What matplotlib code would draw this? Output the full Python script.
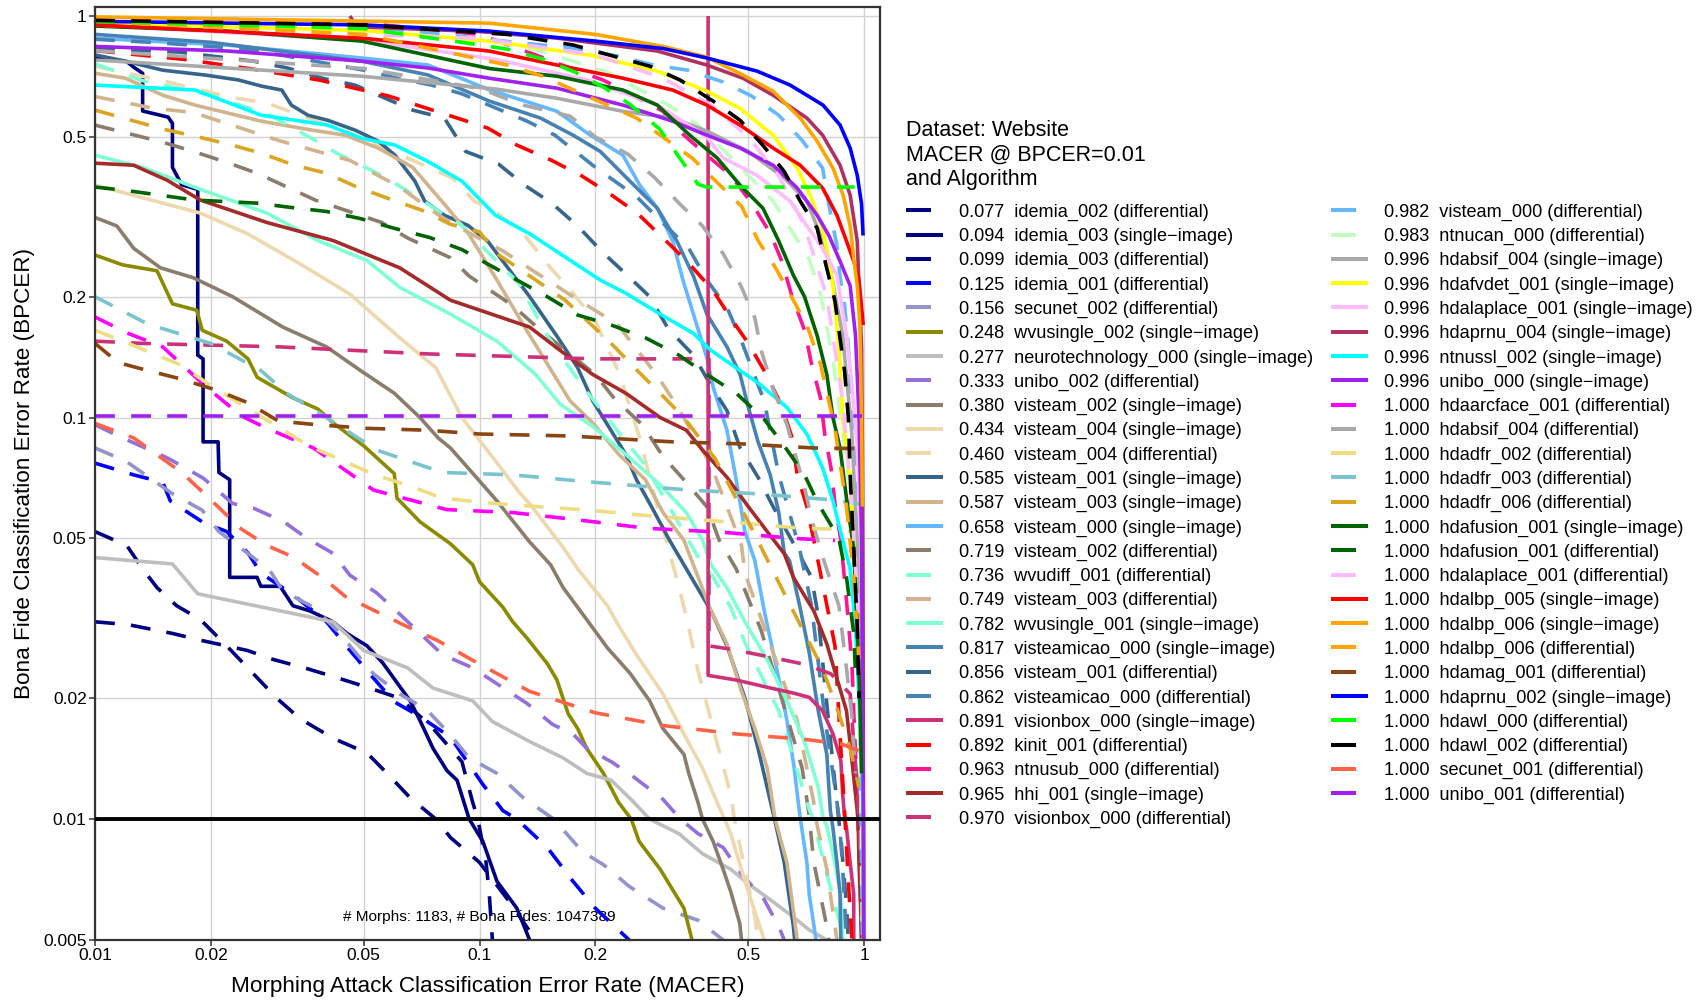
import numpy as np
import matplotlib
matplotlib.use('Agg')
import matplotlib.pyplot as plt
from matplotlib.lines import Line2D
from matplotlib.ticker import NullLocator

plt.rcParams['font.family'] = ['Liberation Sans', 'DejaVu Sans']

# DET curves, points are (MACER, BPCER)
idemia_002_d = [(0.01, 0.052), (0.0121, 0.048), (0.0133, 0.042), (0.0145, 0.0377), (0.0163, 0.034), (0.0188, 0.0314),
                (0.022, 0.027), (0.0297, 0.02), (0.0341, 0.0178), (0.0416, 0.0159), (0.051, 0.0146), (0.0575, 0.013),
                (0.066, 0.0113), (0.077, 0.01), (0.084, 0.009), (0.1, 0.0078), (0.12, 0.0062), (0.14, 0.005)]
idemia_003_s = [(0.01, 0.79), (0.0121, 0.77), (0.0126, 0.746), (0.0133, 0.72), (0.0133, 0.58), (0.0155, 0.56),
                (0.0159, 0.54), (0.0159, 0.42), (0.0168, 0.38), (0.0185, 0.37), (0.0185, 0.143), (0.0191, 0.14),
                (0.0191, 0.087), (0.0209, 0.087), (0.021, 0.073), (0.0224, 0.07), (0.0224, 0.04), (0.0264, 0.04),
                (0.027, 0.038), (0.0303, 0.038), (0.0327, 0.034), (0.0362, 0.033), (0.0416, 0.031), (0.0452, 0.029),
                (0.051, 0.027), (0.056, 0.0245), (0.066, 0.0197), (0.07, 0.0176), (0.0757, 0.015), (0.0823, 0.0132),
                (0.0874, 0.0125), (0.094, 0.01), (0.102, 0.0088), (0.111, 0.007), (0.125, 0.006), (0.135, 0.005)]
idemia_003_d = [(0.01, 0.031), (0.0122, 0.0305), (0.0159, 0.029), (0.0188, 0.0279), (0.0249, 0.0263), (0.029, 0.025),
                (0.0356, 0.0237), (0.0426, 0.0225), (0.051, 0.0213), (0.062, 0.02), (0.075, 0.017), (0.085, 0.0148),
                (0.09, 0.0139), (0.096, 0.011), (0.099, 0.01), (0.104, 0.0078), (0.106, 0.0065), (0.108, 0.005)]
idemia_001_d = [(0.01, 0.077), (0.0126, 0.072), (0.015, 0.069), (0.0157, 0.062), (0.019, 0.055), (0.022, 0.052),
                (0.025, 0.046), (0.027, 0.041), (0.033, 0.036), (0.04, 0.031), (0.045, 0.027), (0.051, 0.0234),
                (0.06, 0.0196), (0.07, 0.018), (0.084, 0.016), (0.102, 0.0122), (0.115, 0.0105), (0.125, 0.01),
                (0.15, 0.0085), (0.175, 0.007), (0.2, 0.006), (0.245, 0.005)]
secunet_002_d = [(0.01, 0.084), (0.012, 0.078), (0.0159, 0.0646), (0.019, 0.0588), (0.021, 0.052), (0.0249, 0.046),
                 (0.0285, 0.0416), (0.0308, 0.037), (0.037, 0.0337), (0.0426, 0.0295), (0.053, 0.023), (0.062, 0.0205),
                 (0.073, 0.0187), (0.084, 0.0162), (0.094, 0.0142), (0.111, 0.013), (0.13, 0.0113), (0.156, 0.01),
                 (0.185, 0.0083), (0.21, 0.0077), (0.245, 0.0068), (0.3, 0.006), (0.37, 0.0056), (0.43, 0.005)]
wvusingle_002_s = [(0.01, 0.254), (0.0118, 0.24), (0.0145, 0.232), (0.0159, 0.192), (0.0184, 0.185), (0.019, 0.165),
                   (0.022, 0.155), (0.025, 0.14), (0.0264, 0.126), (0.0327, 0.112), (0.038, 0.105), (0.0416, 0.097),
                   (0.05, 0.085), (0.06, 0.0725), (0.061, 0.063), (0.07, 0.055), (0.084, 0.0485), (0.096, 0.043),
                   (0.1, 0.039), (0.115, 0.0337), (0.122, 0.031), (0.133, 0.0282), (0.15, 0.0244), (0.159, 0.0222),
                   (0.17, 0.0183), (0.18, 0.0168), (0.19, 0.015), (0.21, 0.013), (0.23, 0.011), (0.248, 0.01),
                   (0.26, 0.0088), (0.295, 0.0075), (0.32, 0.0066), (0.34, 0.006), (0.357, 0.005)]
neurotech_000_s = [(0.01, 0.0448), (0.0159, 0.0432), (0.0185, 0.0364), (0.0416, 0.031), (0.05, 0.0263), (0.065, 0.0238),
                   (0.0757, 0.0212), (0.096, 0.0197), (0.108, 0.0175), (0.135, 0.0156), (0.165, 0.0142), (0.19, 0.013),
                   (0.22, 0.0125), (0.25, 0.0111), (0.277, 0.01), (0.33, 0.0092), (0.38, 0.0082), (0.45, 0.0075),
                   (0.5, 0.0069), (0.57, 0.0063), (0.64, 0.0058), (0.72, 0.0053), (0.8, 0.005)]
unibo_002_d = [(0.01, 0.096), (0.0115, 0.09), (0.0154, 0.0794), (0.0191, 0.0707), (0.0228, 0.0611), (0.0258, 0.0595),
               (0.031, 0.055), (0.0356, 0.05), (0.0416, 0.0459), (0.046, 0.0405), (0.054, 0.0366), (0.062, 0.0324),
               (0.08, 0.0257), (0.096, 0.0238), (0.133, 0.0194), (0.155, 0.0172), (0.175, 0.0163), (0.19, 0.015),
               (0.22, 0.0139), (0.25, 0.0128), (0.3, 0.0112), (0.333, 0.01), (0.37, 0.0092), (0.43, 0.0085),
               (0.48, 0.0073), (0.55, 0.0063), (0.6, 0.0054), (0.62, 0.005)]
visteam_002_s = [(0.01, 0.315), (0.0114, 0.3), (0.0126, 0.264), (0.0148, 0.236), (0.018, 0.223), (0.0228, 0.2),
                 (0.0308, 0.168), (0.04, 0.15), (0.049, 0.131), (0.06, 0.115), (0.07, 0.1), (0.078, 0.089),
                 (0.084, 0.084), (0.1, 0.0695), (0.111, 0.062), (0.135, 0.049), (0.153, 0.043), (0.165, 0.0377),
                 (0.185, 0.0325), (0.215, 0.0267), (0.246, 0.0231), (0.277, 0.0197), (0.3, 0.0168), (0.34, 0.0145),
                 (0.35, 0.013), (0.37, 0.011), (0.38, 0.01), (0.405, 0.0088), (0.43, 0.0075), (0.45, 0.0066),
                 (0.475, 0.0055), (0.48, 0.005)]
visteam_004_s = [(0.01, 0.379), (0.012, 0.362), (0.0188, 0.323), (0.0249, 0.287), (0.034, 0.242), (0.046, 0.203),
                 (0.062, 0.158), (0.077, 0.133), (0.09, 0.1), (0.11, 0.078), (0.127, 0.065), (0.135, 0.061),
                 (0.165, 0.0475), (0.18, 0.042), (0.215, 0.034), (0.227, 0.031), (0.255, 0.0258), (0.3, 0.0205),
                 (0.34, 0.0163), (0.38, 0.0134), (0.42, 0.0107), (0.434, 0.01), (0.45, 0.0092), (0.49, 0.007),
                 (0.55, 0.005)]
visteam_004_d = [(0.01, 0.75), (0.015, 0.69), (0.0224, 0.628), (0.028, 0.607), (0.046, 0.51), (0.06, 0.458),
                 (0.085, 0.395), (0.097, 0.346), (0.111, 0.323), (0.13, 0.287), (0.153, 0.236), (0.175, 0.204),
                 (0.2, 0.174), (0.23, 0.13), (0.26, 0.09), (0.29, 0.06), (0.31, 0.047), (0.33, 0.038), (0.35, 0.03),
                 (0.37, 0.0234), (0.4, 0.0176), (0.45, 0.0115), (0.46, 0.01), (0.49, 0.0075), (0.52, 0.0057),
                 (0.53, 0.005)]
visteam_001_s = [(0.01, 0.8), (0.012, 0.772), (0.015, 0.733), (0.0193, 0.713), (0.0236, 0.693), (0.0271, 0.669),
                 (0.0306, 0.654), (0.0324, 0.6), (0.0358, 0.566), (0.0403, 0.55), (0.0474, 0.52), (0.0545, 0.488),
                 (0.0603, 0.45), (0.0679, 0.388), (0.072, 0.346), (0.081, 0.319), (0.0933, 0.301), (0.105, 0.275),
                 (0.135, 0.2), (0.16, 0.158), (0.18, 0.133), (0.197, 0.11), (0.24, 0.081), (0.256, 0.07),
                 (0.28, 0.06), (0.31, 0.05), (0.34, 0.043), (0.4, 0.033), (0.44, 0.027), (0.49, 0.02),
                 (0.53, 0.015), (0.585, 0.01), (0.62, 0.0078), (0.655, 0.0054), (0.66, 0.005)]
visteam_003_s = [(0.01, 0.72), (0.012, 0.7), (0.015, 0.635), (0.0182, 0.6), (0.0271, 0.547), (0.0366, 0.52),
                 (0.0447, 0.505), (0.0545, 0.469), (0.067, 0.42), (0.081, 0.34), (0.093, 0.29), (0.111, 0.22),
                 (0.13, 0.17), (0.172, 0.11), (0.197, 0.097), (0.23, 0.081), (0.27, 0.07), (0.3, 0.058),
                 (0.34, 0.0495), (0.4, 0.033), (0.44, 0.0273), (0.476, 0.0213), (0.52, 0.0168), (0.56, 0.0134),
                 (0.587, 0.01), (0.63, 0.0078), (0.655, 0.0059), (0.67, 0.005)]
visteam_000_s = [(0.01, 0.88), (0.0222, 0.846), (0.0494, 0.786), (0.0735, 0.755), (0.106, 0.655), (0.159, 0.579),
                 (0.194, 0.505), (0.236, 0.45), (0.261, 0.379), (0.29, 0.332), (0.318, 0.275), (0.338, 0.22),
                 (0.39, 0.141), (0.405, 0.119), (0.44, 0.093), (0.465, 0.07), (0.49, 0.052), (0.52, 0.044),
                 (0.55, 0.033), (0.6, 0.0224), (0.63, 0.0176), (0.658, 0.0134), (0.68, 0.0103), (0.71, 0.0078),
                 (0.72, 0.0065), (0.75, 0.005)]
visteam_002_d = [(0.01, 0.535), (0.015, 0.485), (0.018, 0.46), (0.0217, 0.434), (0.0264, 0.406), (0.0374, 0.348),
                 (0.0557, 0.306), (0.065, 0.28), (0.084, 0.25), (0.094, 0.225), (0.122, 0.19), (0.144, 0.165),
                 (0.2, 0.128), (0.225, 0.111), (0.265, 0.096), (0.3, 0.08), (0.34, 0.07), (0.39, 0.06),
                 (0.42, 0.0495), (0.465, 0.042), (0.54, 0.0295), (0.62, 0.019), (0.69, 0.0134), (0.719, 0.0103),
                 (0.74, 0.0078), (0.8, 0.0054), (0.81, 0.005)]
wvudiff_001_d = [(0.01, 0.76), (0.0133, 0.69), (0.02, 0.635), (0.0285, 0.566), (0.036, 0.5), (0.0426, 0.455),
                 (0.056, 0.4), (0.067, 0.36), (0.09, 0.3), (0.127, 0.215), (0.15, 0.16), (0.185, 0.12),
                 (0.236, 0.089), (0.27, 0.076), (0.37, 0.045), (0.405, 0.04), (0.45, 0.0337), (0.49, 0.0275),
                 (0.6, 0.0186), (0.72, 0.0106), (0.736, 0.01), (0.8, 0.0073), (0.87, 0.0054), (0.88, 0.005)]
visteam_003_d = [(0.01, 0.63), (0.0141, 0.59), (0.018, 0.575), (0.03, 0.49), (0.046, 0.437), (0.062, 0.375),
                 (0.078, 0.32), (0.087, 0.3), (0.115, 0.26), (0.135, 0.235), (0.175, 0.2), (0.228, 0.171),
                 (0.29, 0.127), (0.326, 0.107), (0.4, 0.076), (0.44, 0.06), (0.48, 0.048), (0.49, 0.041),
                 (0.55, 0.03), (0.67, 0.0176), (0.74, 0.011), (0.749, 0.01), (0.8, 0.0075), (0.85, 0.005)]
wvusingle_001_s = [(0.01, 0.45), (0.0133, 0.42), (0.0188, 0.37), (0.028, 0.323), (0.038, 0.276), (0.051, 0.246),
                   (0.062, 0.211), (0.084, 0.181), (0.111, 0.155), (0.14, 0.128), (0.162, 0.108), (0.197, 0.095),
                   (0.24, 0.081), (0.295, 0.068), (0.345, 0.058), (0.38, 0.0495), (0.4, 0.043), (0.44, 0.0377),
                   (0.49, 0.031), (0.56, 0.0249), (0.63, 0.0197), (0.7, 0.0156), (0.76, 0.012), (0.782, 0.0101),
                   (0.8, 0.0096), (0.83, 0.0082), (0.87, 0.0065), (0.88, 0.005)]
visteamicao_000_s = [(0.01, 0.9), (0.02, 0.86), (0.05, 0.77), (0.0735, 0.713), (0.106, 0.614), (0.144, 0.557),
                     (0.175, 0.505), (0.206, 0.46), (0.246, 0.388), (0.29, 0.332), (0.326, 0.275), (0.36, 0.225),
                     (0.39, 0.181), (0.44, 0.15), (0.476, 0.128), (0.5, 0.106), (0.53, 0.087), (0.57, 0.072),
                     (0.6, 0.058), (0.62, 0.046), (0.64, 0.044), (0.68, 0.034), (0.72, 0.026), (0.76, 0.0186),
                     (0.8, 0.0145), (0.817, 0.0105), (0.83, 0.0095), (0.85, 0.0078), (0.866, 0.0065), (0.87, 0.005)]
visteam_001_d = [(0.01, 0.83), (0.0166, 0.813), (0.0258, 0.772), (0.0317, 0.742), (0.039, 0.7), (0.0474, 0.673),
                 (0.067, 0.583), (0.081, 0.557), (0.092, 0.46), (0.112, 0.428), (0.131, 0.379), (0.154, 0.342),
                 (0.18, 0.3), (0.208, 0.259), (0.24, 0.228), (0.277, 0.2), (0.31, 0.166), (0.36, 0.143),
                 (0.4, 0.12), (0.44, 0.104), (0.476, 0.084), (0.53, 0.071), (0.58, 0.06), (0.66, 0.048),
                 (0.73, 0.04), (0.76, 0.032), (0.79, 0.0218), (0.83, 0.0137), (0.856, 0.0103), (0.87, 0.009),
                 (0.9, 0.0061), (0.91, 0.005)]
visteamicao_000_d = [(0.01, 0.875), (0.014, 0.86), (0.021, 0.837), (0.026, 0.822), (0.05, 0.733), (0.061, 0.7),
                     (0.075, 0.673), (0.09, 0.64), (0.133, 0.547), (0.157, 0.505), (0.2, 0.42), (0.256, 0.355),
                     (0.3, 0.305), (0.35, 0.264), (0.39, 0.22), (0.44, 0.188), (0.48, 0.155), (0.55, 0.11),
                     (0.6, 0.072), (0.63, 0.061), (0.68, 0.047), (0.73, 0.034), (0.79, 0.018), (0.83, 0.013),
                     (0.862, 0.01), (0.88, 0.0075), (0.9, 0.005)]
visionbox_000_s = [(0.393, 1.0), (0.393, 0.0228), (0.465, 0.0222), (0.56, 0.0213), (0.655, 0.0206), (0.72, 0.0201),
                   (0.78, 0.0186), (0.83, 0.0163), (0.87, 0.014), (0.88, 0.0115), (0.891, 0.01), (0.9, 0.0095),
                   (0.92, 0.0078), (0.94, 0.0065), (0.94, 0.005)]
kinit_001_d = [(0.01, 0.82), (0.017, 0.78), (0.0256, 0.738), (0.0385, 0.692), (0.058, 0.632), (0.086, 0.56),
               (0.105, 0.526), (0.125, 0.477), (0.154, 0.437), (0.185, 0.399), (0.217, 0.362), (0.257, 0.323),
               (0.345, 0.246), (0.405, 0.207), (0.45, 0.177), (0.5, 0.153), (0.56, 0.127), (0.61, 0.107),
               (0.65, 0.089), (0.67, 0.072), (0.71, 0.06), (0.74, 0.0495), (0.77, 0.041), (0.84, 0.027),
               (0.87, 0.015), (0.892, 0.01), (0.91, 0.007), (0.93, 0.005)]
ntnusub_000_d = [(0.01, 0.985), (0.05, 0.96), (0.1, 0.9), (0.14, 0.8), (0.172, 0.742), (0.21, 0.692), (0.253, 0.632),
                 (0.3, 0.579), (0.34, 0.505), (0.39, 0.45), (0.45, 0.401), (0.51, 0.342), (0.57, 0.288),
                 (0.61, 0.246), (0.65, 0.2), (0.7, 0.165), (0.73, 0.136), (0.77, 0.112), (0.79, 0.091),
                 (0.82, 0.075), (0.84, 0.061), (0.87, 0.0495), (0.9, 0.035), (0.93, 0.0243), (0.94, 0.0184),
                 (0.955, 0.013), (0.963, 0.01), (0.975, 0.0075), (0.985, 0.005)]
hhi_001_s = [(0.01, 0.43), (0.0126, 0.425), (0.0154, 0.39), (0.0188, 0.348), (0.028, 0.306), (0.0416, 0.276),
             (0.062, 0.236), (0.084, 0.196), (0.135, 0.168), (0.162, 0.147), (0.197, 0.128), (0.24, 0.115),
             (0.295, 0.1), (0.345, 0.093), (0.38, 0.083), (0.44, 0.071), (0.5, 0.06), (0.56, 0.052),
             (0.62, 0.0458), (0.655, 0.04), (0.74, 0.033), (0.8, 0.0273), (0.85, 0.0224), (0.9, 0.0186),
             (0.92, 0.0154), (0.94, 0.0127), (0.955, 0.011), (0.965, 0.01), (0.97, 0.0078), (0.98, 0.006),
             (0.985, 0.005)]
visionbox_000_d = [(0.01, 0.155), (0.0133, 0.153), (0.03, 0.15), (0.074, 0.144), (0.2, 0.14), (0.395, 0.14),
                   (0.395, 0.027), (0.45, 0.0265), (0.55, 0.0255), (0.7, 0.0243), (0.82, 0.023), (0.92, 0.0205),
                   (0.94, 0.0155), (0.96, 0.0122), (0.97, 0.01), (0.98, 0.0075), (0.99, 0.005)]
visteam_000_d = [(0.01, 0.97), (0.05, 0.94), (0.08, 0.9), (0.124, 0.86), (0.175, 0.832), (0.229, 0.795),
                 (0.283, 0.755), (0.348, 0.733), (0.43, 0.685), (0.51, 0.632), (0.6, 0.566), (0.69, 0.49),
                 (0.78, 0.418), (0.81, 0.338), (0.85, 0.268), (0.865, 0.226), (0.89, 0.19), (0.91, 0.15),
                 (0.94, 0.091), (0.96, 0.045), (0.975, 0.02), (0.982, 0.01), (0.99, 0.005)]
ntnucan_000_d = [(0.01, 0.95), (0.05, 0.92), (0.116, 0.856), (0.15, 0.809), (0.215, 0.725), (0.31, 0.6),
                 (0.37, 0.535), (0.435, 0.46), (0.58, 0.346), (0.72, 0.248), (0.77, 0.204), (0.83, 0.139),
                 (0.88, 0.092), (0.93, 0.061), (0.96, 0.035), (0.975, 0.02), (0.983, 0.01), (0.99, 0.005)]
hdabsif_004_s = [(0.01, 0.777), (0.0222, 0.742), (0.0494, 0.708), (0.11, 0.658), (0.159, 0.624), (0.236, 0.579),
                 (0.318, 0.557), (0.39, 0.517), (0.5, 0.46), (0.62, 0.395), (0.71, 0.346), (0.8, 0.26),
                 (0.88, 0.16), (0.93, 0.09), (0.97, 0.04), (0.99, 0.015), (0.996, 0.01), (0.998, 0.005)]
hdafvdet_001_s = [(0.01, 0.96), (0.05, 0.92), (0.106, 0.866), (0.194, 0.799), (0.29, 0.729), (0.39, 0.65),
                  (0.476, 0.589), (0.58, 0.505), (0.67, 0.418), (0.724, 0.358), (0.78, 0.296), (0.81, 0.245),
                  (0.83, 0.213), (0.86, 0.15), (0.88, 0.1), (0.92, 0.07), (0.94, 0.047), (0.97, 0.025),
                  (0.99, 0.013), (0.996, 0.01), (0.998, 0.005)]
hdalaplace_001_s = [(0.01, 0.95), (0.05, 0.87), (0.11, 0.78), (0.194, 0.69), (0.29, 0.6), (0.39, 0.5),
                    (0.43, 0.443), (0.527, 0.401), (0.642, 0.346), (0.71, 0.3), (0.78, 0.264), (0.85, 0.226),
                    (0.9, 0.16), (0.93, 0.12), (0.96, 0.084), (0.98, 0.05), (0.99, 0.025), (0.996, 0.01),
                    (0.998, 0.005)]
hdaprnu_004_s = [(0.046, 1.0), (0.048, 0.94), (0.1, 0.915), (0.159, 0.881), (0.29, 0.818), (0.39, 0.755),
                 (0.484, 0.7), (0.58, 0.635), (0.71, 0.557), (0.78, 0.505), (0.866, 0.425), (0.92, 0.358),
                 (0.96, 0.275), (0.97, 0.213), (0.985, 0.15), (0.99, 0.08), (0.994, 0.03), (0.996, 0.01),
                 (0.998, 0.005)]
ntnussl_002_s = [(0.01, 0.673), (0.0182, 0.654), (0.0271, 0.566), (0.0403, 0.535), (0.0494, 0.496), (0.0603, 0.477),
                 (0.0735, 0.434), (0.09, 0.388), (0.11, 0.319), (0.135, 0.287), (0.206, 0.22), (0.24, 0.204),
                 (0.295, 0.181), (0.36, 0.162), (0.4, 0.147), (0.465, 0.133), (0.53, 0.122), (0.63, 0.106),
                 (0.71, 0.091), (0.78, 0.075), (0.83, 0.062), (0.88, 0.0495), (0.92, 0.042), (0.95, 0.03),
                 (0.97, 0.02), (0.99, 0.012), (0.996, 0.01), (0.998, 0.005)]
unibo_000_s = [(0.01, 0.84), (0.0222, 0.818), (0.0494, 0.772), (0.0735, 0.742), (0.106, 0.7), (0.159, 0.661),
               (0.236, 0.6), (0.318, 0.547), (0.39, 0.505), (0.476, 0.469), (0.58, 0.425), (0.67, 0.373),
               (0.755, 0.319), (0.81, 0.284), (0.866, 0.245), (0.92, 0.213), (0.95, 0.16), (0.97, 0.1),
               (0.985, 0.05), (0.99, 0.02), (0.996, 0.01), (0.998, 0.005)]
hdaarcface_001_d = [(0.01, 0.178), (0.0122, 0.162), (0.015, 0.15), (0.0195, 0.119), (0.024, 0.101), (0.028, 0.094),
                    (0.037, 0.084), (0.053, 0.066), (0.082, 0.059), (0.122, 0.058), (0.178, 0.0557),
                    (0.272, 0.053), (0.43, 0.0518), (0.66, 0.05), (0.84, 0.0494)]
hdabsif_004_d = [(0.01, 0.82), (0.05, 0.74), (0.1, 0.66), (0.13, 0.6), (0.172, 0.563), (0.2, 0.5), (0.243, 0.453),
                 (0.286, 0.395), (0.33, 0.342), (0.38, 0.3), (0.43, 0.256), (0.478, 0.213), (0.52, 0.177),
                 (0.54, 0.147), (0.58, 0.118), (0.63, 0.096), (0.7, 0.067), (0.73, 0.056), (0.78, 0.045),
                 (0.86, 0.034), (0.89, 0.026), (0.93, 0.018), (0.95, 0.013)]
hdadfr_002_d = [(0.01, 0.165), (0.012, 0.154), (0.0168, 0.135), (0.02, 0.12), (0.026, 0.103), (0.036, 0.085),
                (0.0535, 0.072), (0.066, 0.0675), (0.08, 0.063), (0.111, 0.061), (0.188, 0.0589), (0.29, 0.0567),
                (0.44, 0.055), (0.69, 0.053), (0.82, 0.0528), (0.95, 0.0517)]
hdadfr_003_d = [(0.01, 0.2), (0.0117, 0.185), (0.0137, 0.171), (0.02, 0.153), (0.027, 0.131), (0.0315, 0.115),
                (0.04, 0.1), (0.054, 0.083), (0.08, 0.073), (0.122, 0.072), (0.185, 0.0694), (0.35, 0.066),
                (0.54, 0.0645), (0.82, 0.0624), (0.97, 0.061)]
hdadfr_006_d = [(0.01, 0.583), (0.015, 0.523), (0.0185, 0.5), (0.0222, 0.48), (0.0271, 0.455), (0.033, 0.425),
                (0.04, 0.406), (0.048, 0.375), (0.058, 0.351), (0.071, 0.328), (0.084, 0.303), (0.1, 0.29),
                (0.111, 0.256), (0.167, 0.196), (0.22, 0.153), (0.255, 0.132), (0.3, 0.113), (0.34, 0.1),
                (0.41, 0.079), (0.5, 0.055), (0.63, 0.0354), (0.78, 0.0237), (0.85, 0.0189), (0.92, 0.015),
                (0.97, 0.012)]
hdafusion_001_s = [(0.01, 0.944), (0.0222, 0.917), (0.0494, 0.866), (0.106, 0.74), (0.159, 0.708), (0.236, 0.654),
                   (0.29, 0.6), (0.352, 0.505), (0.415, 0.443), (0.476, 0.379), (0.546, 0.332), (0.6, 0.275),
                   (0.655, 0.226), (0.7, 0.2), (0.755, 0.16), (0.8, 0.128), (0.83, 0.1), (0.866, 0.084),
                   (0.9, 0.063), (0.94, 0.047), (0.96, 0.03), (0.975, 0.02), (0.985, 0.013)]
hdafusion_001_d = [(0.01, 0.375), (0.012, 0.368), (0.0182, 0.348), (0.0264, 0.342), (0.032, 0.334), (0.04, 0.326),
                   (0.049, 0.313), (0.06, 0.296), (0.074, 0.281), (0.09, 0.262), (0.106, 0.24), (0.15, 0.2),
                   (0.18, 0.18), (0.22, 0.17), (0.27, 0.158), (0.33, 0.143), (0.39, 0.128), (0.465, 0.115),
                   (0.55, 0.099), (0.62, 0.085), (0.7, 0.072), (0.76, 0.061), (0.86, 0.05), (0.9, 0.04),
                   (0.94, 0.029), (0.95, 0.023)]
hdalaplace_001_d = [(0.01, 0.95), (0.1, 0.88), (0.2, 0.8), (0.3, 0.7), (0.4, 0.6), (0.5, 0.5), (0.6, 0.4),
                    (0.7, 0.3), (0.8, 0.2), (0.88, 0.11), (0.93, 0.06), (0.97, 0.03)]
hdalbp_005_s = [(0.01, 0.95), (0.05, 0.88), (0.106, 0.818), (0.159, 0.755), (0.236, 0.7), (0.318, 0.654),
                (0.39, 0.6), (0.476, 0.535), (0.58, 0.469), (0.682, 0.425), (0.78, 0.373), (0.85, 0.319),
                (0.9, 0.275), (0.94, 0.245), (0.97, 0.22), (0.995, 0.17)]
hdalbp_006_s = [(0.01, 0.995), (0.106, 0.96), (0.2, 0.9), (0.3, 0.84), (0.39, 0.79), (0.484, 0.713), (0.58, 0.65),
                (0.682, 0.557), (0.755, 0.488), (0.83, 0.418), (0.882, 0.358), (0.92, 0.3), (0.94, 0.249),
                (0.96, 0.213), (0.975, 0.17), (0.985, 0.1), (0.99, 0.06)]
hdalbp_006_d = [(0.01, 0.97), (0.05, 0.9), (0.118, 0.755), (0.146, 0.708), (0.256, 0.557), (0.357, 0.443),
                (0.48, 0.336), (0.53, 0.276), (0.59, 0.235), (0.71, 0.17), (0.77, 0.136), (0.84, 0.094),
                (0.9, 0.06), (0.94, 0.04), (0.97, 0.025)]
hdamag_001_d = [(0.01, 0.153), (0.0115, 0.137), (0.0137, 0.131), (0.0166, 0.125), (0.0207, 0.117), (0.0249, 0.109),
                (0.03, 0.098), (0.0377, 0.096), (0.051, 0.094), (0.073, 0.093), (0.1, 0.091), (0.17, 0.09),
                (0.318, 0.087), (0.48, 0.086), (0.74, 0.084), (0.96, 0.0837)]
hdaprnu_002_s = [(0.01, 0.97), (0.05, 0.95), (0.106, 0.917), (0.2, 0.866), (0.3, 0.83), (0.39, 0.786),
                 (0.527, 0.729), (0.642, 0.673), (0.782, 0.6), (0.866, 0.535), (0.92, 0.469), (0.96, 0.401),
                 (0.985, 0.34), (0.994, 0.284)]
hdawl_000_d = [(0.01, 0.97), (0.05, 0.93), (0.09, 0.86), (0.118, 0.827), (0.146, 0.781), (0.177, 0.725),
               (0.21, 0.665), (0.246, 0.603), (0.294, 0.523), (0.332, 0.442), (0.37, 0.381), (0.39, 0.375),
               (0.945, 0.375)]
hdawl_002_d = [(0.01, 0.975), (0.05, 0.95), (0.118, 0.9), (0.175, 0.847), (0.277, 0.75), (0.332, 0.693),
               (0.405, 0.614), (0.476, 0.55), (0.546, 0.476), (0.62, 0.41), (0.682, 0.346), (0.755, 0.296),
               (0.8, 0.235), (0.84, 0.195), (0.89, 0.13), (0.91, 0.1), (0.92, 0.072), (0.94, 0.047),
               (0.96, 0.03), (0.97, 0.02)]
secunet_001_d = [(0.01, 0.0967), (0.0126, 0.089), (0.0168, 0.073), (0.0188, 0.066), (0.024, 0.0528), (0.028, 0.048),
                 (0.0327, 0.045), (0.039, 0.04), (0.0447, 0.0359), (0.0535, 0.033), (0.0646, 0.0302),
                 (0.0775, 0.0279), (0.095, 0.025), (0.135, 0.0208), (0.2, 0.0184), (0.3, 0.0171), (0.465, 0.0163),
                 (0.7, 0.0158), (0.87, 0.0154), (0.97, 0.0148)]
unibo_001_d = [(0.01, 0.101), (0.99, 0.101)]

curves = [idemia_002_d, idemia_003_s, idemia_003_d, idemia_001_d, secunet_002_d, wvusingle_002_s, neurotech_000_s,
          unibo_002_d, visteam_002_s, visteam_004_s, visteam_004_d, visteam_001_s, visteam_003_s, visteam_000_s,
          visteam_002_d, wvudiff_001_d, visteam_003_d, wvusingle_001_s, visteamicao_000_s, visteam_001_d,
          visteamicao_000_d, visionbox_000_s, kinit_001_d, ntnusub_000_d, hhi_001_s, visionbox_000_d,
          visteam_000_d, ntnucan_000_d, hdabsif_004_s, hdafvdet_001_s, hdalaplace_001_s, hdaprnu_004_s,
          ntnussl_002_s, unibo_000_s, hdaarcface_001_d, hdabsif_004_d, hdadfr_002_d, hdadfr_003_d, hdadfr_006_d,
          hdafusion_001_s, hdafusion_001_d, hdalaplace_001_d, hdalbp_005_s, hdalbp_006_s, hdalbp_006_d,
          hdamag_001_d, hdaprnu_002_s, hdawl_000_d, hdawl_002_d, secunet_001_d, unibo_001_d]

macer = [0.077, 0.094, 0.099, 0.125, 0.156, 0.248, 0.277, 0.333, 0.380, 0.434, 0.460, 0.585, 0.587, 0.658, 0.719,
         0.736, 0.749, 0.782, 0.817, 0.856, 0.862, 0.891, 0.892, 0.963, 0.965, 0.970,
         0.982, 0.983, 0.996, 0.996, 0.996, 0.996, 0.996, 0.996, 1.0, 1.0, 1.0, 1.0, 1.0, 1.0, 1.0, 1.0, 1.0, 1.0,
         1.0, 1.0, 1.0, 1.0, 1.0, 1.0, 1.0]

algos = ['idemia_002', 'idemia_003', 'idemia_003', 'idemia_001', 'secunet_002', 'wvusingle_002',
         'neurotechnology_000', 'unibo_002', 'visteam_002', 'visteam_004', 'visteam_004', 'visteam_001',
         'visteam_003', 'visteam_000', 'visteam_002', 'wvudiff_001', 'visteam_003', 'wvusingle_001',
         'visteamicao_000', 'visteam_001', 'visteamicao_000', 'visionbox_000', 'kinit_001', 'ntnusub_000',
         'hhi_001', 'visionbox_000',
         'visteam_000', 'ntnucan_000', 'hdabsif_004', 'hdafvdet_001', 'hdalaplace_001', 'hdaprnu_004',
         'ntnussl_002', 'unibo_000', 'hdaarcface_001', 'hdabsif_004', 'hdadfr_002', 'hdadfr_003', 'hdadfr_006',
         'hdafusion_001', 'hdafusion_001', 'hdalaplace_001', 'hdalbp_005', 'hdalbp_006', 'hdalbp_006',
         'hdamag_001', 'hdaprnu_002', 'hdawl_000', 'hdawl_002', 'secunet_001', 'unibo_001']

# 'd' = differential (dashed), 's' = single-image (solid)
kinds = ['d', 's', 'd', 'd', 'd', 's', 's', 'd', 's', 's', 'd', 's', 's', 's', 'd', 'd', 'd', 's', 's', 'd', 'd',
         's', 'd', 'd', 's', 'd',
         'd', 'd', 's', 's', 's', 's', 's', 's', 'd', 'd', 'd', 'd', 'd', 's', 'd', 'd', 's', 's', 'd', 'd', 's',
         'd', 'd', 'd', 'd']

colors = ['#000080', '#000080', '#000080', '#0000FF', '#9494CC', '#8B8B00', '#BEBEBE', '#9370DB', '#8B7D6B',
          '#EED8AE', '#EED8AE', '#36648B', '#D2B48C', '#63B8FF', '#8B7D6B', '#7FFFD4', '#D2B48C', '#7FFFD4',
          '#4682B4', '#36648B', '#4682B4', '#CD3278', '#FF0000', '#FF1493', '#A52A2A', '#CD3278',
          '#63B8FF', '#C1FFC1', '#A9A9A9', '#FFFF00', '#FFBBFF', '#B03060', '#00FFFF', '#A020F0', '#FF00FF',
          '#A9A9A9', '#EEDD82', '#7AC5CD', '#DAA520', '#006400', '#006400', '#FFBBFF', '#FF0000', '#FFA500',
          '#FFA500', '#8B4513', '#0000FF', '#00FF00', '#000000', '#FF6347', '#A020F0']

LW = 2.6
DASH = (5.5, 4.5)

fig = plt.figure(figsize=(17.07, 10.01), dpi=100)
ax = fig.add_axes([95 / 1707, 61 / 1001, 785 / 1707, 933 / 1001])

ax.text(0.1, 0.0057, '# Morphs: 1183, # Bona Fides: 1047389', ha='center', va='center', fontsize=11.1, zorder=1.5)

handles = []
labels = []
for pts, kind, col, m, name in zip(curves, kinds, colors, macer, algos):
    arr = np.array(pts)
    if kind == 'd':
        ax.plot(arr[:, 0], arr[:, 1], color=col, lw=LW, dashes=DASH, dash_capstyle='butt', zorder=2)
        h = Line2D([], [], color=col, lw=LW + 0.3, dashes=(6.2, 5.3), dash_capstyle='butt')
        tag = 'differential'
    else:
        ax.plot(arr[:, 0], arr[:, 1], color=col, lw=LW, solid_capstyle='butt', zorder=2)
        h = Line2D([], [], color=col, lw=LW + 0.3, solid_capstyle='butt')
        tag = 'single\u2212image'
    handles.append(h)
    labels.append('%.3f  %s (%s)' % (m, name, tag))

ax.axhline(0.01, color='black', lw=2.8, zorder=6)

ax.set_xscale('log')
ax.set_yscale('log')
ax.set_xlim(0.01, 1.1)
ax.set_ylim(0.005, 1.053)
xt = [0.01, 0.02, 0.05, 0.1, 0.2, 0.5, 1]
yt = [0.005, 0.01, 0.02, 0.05, 0.1, 0.2, 0.5, 1]
ax.set_xticks(xt)
ax.set_xticklabels(['0.01', '0.02', '0.05', '0.1', '0.2', '0.5', '1'])
ax.set_yticks(yt)
ax.set_yticklabels(['0.005', '0.01', '0.02', '0.05', '0.1', '0.2', '0.5', '1'])
ax.xaxis.set_minor_locator(NullLocator())
ax.yaxis.set_minor_locator(NullLocator())
ax.grid(True, color='#D3D3D3', lw=1.0, zorder=0)
ax.set_axisbelow(True)
ax.tick_params(axis='both', direction='out', length=4, width=1.1, color='#333333', labelsize=12.5,
               labelcolor='black', pad=2)
for s in ax.spines.values():
    s.set_color('#333333')
    s.set_linewidth(1.6)

ax.set_xlabel('Morphing Attack Classification Error Rate (MACER)', fontsize=16.2, labelpad=9)
ax.set_ylabel('Bona Fide Classification Error Rate (BPCER)', fontsize=16.2, labelpad=6)

# one blank entry so the first column gets 26 rows
handles.append(Line2D([], [], color='none'))
labels.append('')

leg = fig.legend(handles, labels, ncol=2, loc='upper left', bbox_to_anchor=(893 / 1707, 1 - 107 / 1001),
                 frameon=False, title='Dataset: Website\nMACER @ BPCER=0.01\nand Algorithm', alignment='left',
                 fontsize=13.1, title_fontsize=15.5, handlelength=2.05, handletextpad=0.9, columnspacing=0.95,
                 labelspacing=0.39, borderpad=0.2)
leg.get_title().set_linespacing(1.22)
leg._legend_box.sep = 10

fig.savefig('out.png', dpi=100)
